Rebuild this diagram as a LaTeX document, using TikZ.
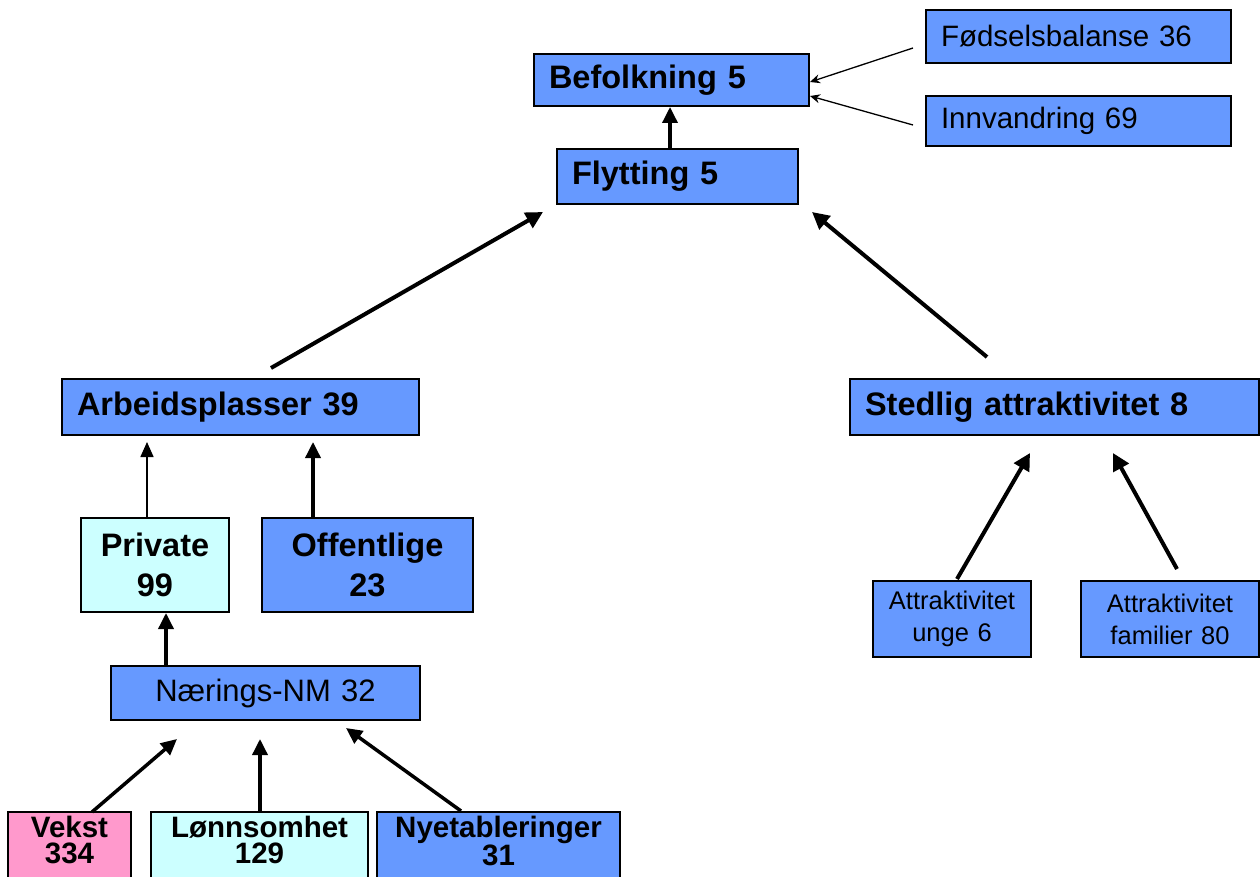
\documentclass[tikz,border=0pt]{standalone}
\usepackage{fontspec}
\setmainfont{Liberation Sans}
\usetikzlibrary{arrows.meta}
\definecolor{nblue}{HTML}{6699FF}
\definecolor{ncyan}{HTML}{CCFFFF}
\definecolor{npink}{HTML}{FF99CC}
\begin{document}
\begin{tikzpicture}[x=1pt,y=-1pt,
  box/.style={draw=black, line width=2pt, fill=nblue, anchor=north west, inner ysep=0pt, inner xsep=0pt, align=center},
  lbox/.style={box, align=left},
  big/.style={font=\bfseries\fontsize{32.5}{32}\selectfont},
  reg/.style={font=\fontsize{29.5}{30}\selectfont},
  small/.style={font=\fontsize{25.5}{32}\selectfont},
  bot/.style={font=\bfseries\fontsize{29.5}{26}\selectfont, align=center, anchor=north},
  thickarr/.style={line width=4pt, -{Triangle[length=17pt,width=17pt]}},
  medarr/.style={line width=3.5pt, -{Triangle[length=16pt,width=15pt]}},
  thinarr/.style={line width=1.5pt, -{Triangle[length=15pt,width=13pt]}},
  topthin/.style={line width=1.3pt, -{Stealth[length=10pt,width=9pt]}}
]
\useasboundingbox (0,0) rectangle (1260,877);
\clip (0,0) rectangle (1260,877);
\fill[white] (0,0) rectangle (1260,877);

% top boxes
\node[lbox, big, minimum width=275pt, minimum height=52pt, text width=245pt] (bef) at (533,53) {Befolkning 5};
\node[lbox, reg, minimum width=305pt, minimum height=53pt, text width=275pt] (fod) at (925,9) {Fødselsbalanse 36};
\node[lbox, reg, minimum width=305pt, minimum height=50pt, text width=275pt] (inn) at (925,95) {Innvandring 69};
\node[lbox, big, minimum width=241pt, minimum height=55pt, text width=211pt] (fly) at (556,148) {Flytting 5};

% middle
\node[lbox, big, minimum width=357pt, minimum height=56pt, text width=327pt] (arb) at (61,378) {Arbeidsplasser 39};
\node[lbox, big, minimum width=409pt, minimum height=56pt, text width=379pt] (sted) at (849,378) {Stedlig attraktivitet 8};

\node[box, fill=ncyan, minimum width=148pt, minimum height=94pt, text width=140pt, font=\bfseries\fontsize{32.5}{40}\selectfont] (priv) at (80,517) {Private\\99};
\node[box, minimum width=211pt, minimum height=94pt, text width=200pt, font=\bfseries\fontsize{32.5}{40}\selectfont] (off) at (261,517) {Offentlige\\23};

\node[box, font=\fontsize{31}{31}\selectfont, minimum width=309pt, minimum height=54pt, text width=300pt] (nm) at (110,665) {Nærings-NM 32};

\node[box, small, minimum width=158pt, minimum height=76pt, text width=150pt] (unge) at (872,580) {Attraktivitet\\unge 6};
\node[box, small, minimum width=178pt, minimum height=76pt, text width=170pt] (fam) at (1080,580) {Attraktivitet\\familier 80};

% bottom
\node[box, fill=npink, minimum width=123pt, minimum height=80pt] (vek) at (7,811) {};
\node[bot] (vekt) at ([yshift=-2pt]vek.north) {Vekst\\334};
\node[box, fill=ncyan, minimum width=217pt, minimum height=80pt] (lon) at (150,811) {};
\node[bot] (lont) at ([yshift=-2pt]lon.north) {Lønnsomhet\\129};
\node[box, minimum width=243pt, minimum height=80pt] (nye) at (376,811) {};
\node[bot] (nyet) at ([yshift=-2pt]nye.north) {Nyetableringer\\31};

% arrow end points
\coordinate (fodS) at (913,48);   \coordinate (fodE) at (810,82);
\coordinate (innS) at (913,125);  \coordinate (innE) at (810,96);
\coordinate (arbS) at (271,368);  \coordinate (arbE) at (543,212);
\coordinate (stedS) at (987,357); \coordinate (stedE) at (812,212);
\coordinate (privS) at (147,517); \coordinate (privE) at (147,442);
\coordinate (offS) at (313,517);  \coordinate (offE) at (313,442);
\coordinate (vekS) at (92,812);   \coordinate (vekE) at (177,739);
\coordinate (lonS) at (260,811);  \coordinate (lonE) at (260,739);
\coordinate (nyeS) at (461,811);  \coordinate (nyeE) at (346,728);
\coordinate (ungeS) at (957,579); \coordinate (ungeE) at (1030,453);
\coordinate (famS) at (1177,569); \coordinate (famE) at (1113,453);

\draw[topthin] (fodS) -- (fodE);
\draw[topthin] (innS) -- (innE);
\draw[medarr] (fly.north -| 670,0) -- (bef.south -| 670,0);
\draw[thickarr] (arbS) -- (arbE);
\draw[thickarr] (stedS) -- (stedE);
\draw[thinarr] (privS) -- (privE);
\draw[medarr] (offS) -- (offE);
\draw[medarr] (nm.north -| 166,0) -- (priv.south -| 166,0);
\draw[medarr] (vekS) -- (vekE);
\draw[medarr] (lonS) -- (lonE);
\draw[medarr] (nyeS) -- (nyeE);
\draw[thickarr] (ungeS) -- (ungeE);
\draw[thickarr] (famS) -- (famE);
\end{tikzpicture}
\end{document}
